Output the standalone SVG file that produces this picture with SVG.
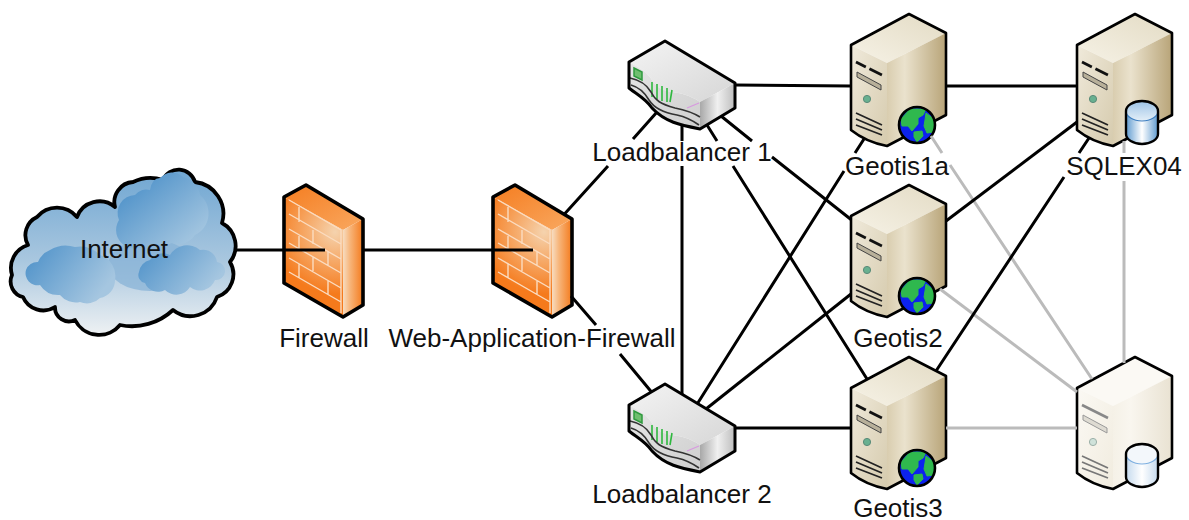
<svg xmlns="http://www.w3.org/2000/svg" width="1189" height="520" viewBox="0 0 1189 520">
<style>
text{font-family:"Liberation Sans",Arial,sans-serif;font-size:26px;fill:#111;text-anchor:middle}
.ol{fill:none;stroke:#000;stroke-width:3;stroke-linejoin:round}
.in{fill:none;stroke:#222;stroke-width:1.8}
.pin{fill:none;stroke:#777;stroke-width:1.8}
.brick{fill:none;stroke:#fbdcc0;stroke-width:1.4}
.blk{fill:none;stroke:#000;stroke-width:3}
.gry{fill:none;stroke:#bbb;stroke-width:3}
</style>
<defs>
<linearGradient id="cloudG" x1="0" y1="0" x2="0" y2="1"><stop offset="0" stop-color="#6fa6d2"/><stop offset=".55" stop-color="#a9c7df"/><stop offset="1" stop-color="#eef1f3"/></linearGradient>
<linearGradient id="blobA" x1="0" y1="0" x2="1" y2="1"><stop offset=".1" stop-color="#4a8fc8"/><stop offset="1" stop-color="#b3cfe4"/></linearGradient>
<linearGradient id="blobB" x1="0" y1="0" x2="1" y2=".5"><stop offset="0" stop-color="#4a8fc8"/><stop offset="1" stop-color="#a5c6e0"/></linearGradient>
<radialGradient id="fwFront" gradientUnits="userSpaceOnUse" cx="335" cy="232" r="62"><stop offset="0" stop-color="#f5d3ae"/><stop offset=".55" stop-color="#f6a25c"/><stop offset="1" stop-color="#f57a1c"/></radialGradient>
<linearGradient id="fwSide" x1="0" y1="0" x2="1" y2="0"><stop offset="0" stop-color="#f7dcc0"/><stop offset=".35" stop-color="#f7b57a"/><stop offset="1" stop-color="#f47a1c"/></linearGradient>
<linearGradient id="fwTop" x1="0" y1="0" x2="1" y2="1"><stop offset="0" stop-color="#f57d20"/><stop offset="1" stop-color="#f9a860"/></linearGradient>
<linearGradient id="sFront" x1="0" y1="0" x2="1" y2="1"><stop offset="0" stop-color="#f0eadb"/><stop offset="1" stop-color="#d6cbae"/></linearGradient>
<linearGradient id="sSide" x1="0" y1="0" x2="1" y2="0"><stop offset="0" stop-color="#d9cdaf"/><stop offset=".3" stop-color="#eae2cd"/><stop offset="1" stop-color="#b8a478"/></linearGradient>
<linearGradient id="sTop" x1="0" y1="1" x2="1" y2="0"><stop offset="0" stop-color="#f6f2e6"/><stop offset="1" stop-color="#e3dbc4"/></linearGradient>
<linearGradient id="pFront" x1="0" y1="0" x2="1" y2="1"><stop offset="0" stop-color="#fbf9f4"/><stop offset="1" stop-color="#f1ecdf"/></linearGradient>
<linearGradient id="pSide" x1="0" y1="0" x2="1" y2="0"><stop offset="0" stop-color="#f5f1e7"/><stop offset=".3" stop-color="#f9f6ef"/><stop offset="1" stop-color="#e9e2d2"/></linearGradient>
<linearGradient id="dbG" x1="0" y1="0" x2="1" y2="0"><stop offset="0" stop-color="#5f9bd0"/><stop offset=".5" stop-color="#ffffff"/><stop offset="1" stop-color="#5f9bd0"/></linearGradient>
<linearGradient id="dbTop" x1="0" y1="0" x2="0" y2="1"><stop offset="0" stop-color="#9cc3e6"/><stop offset="1" stop-color="#e4eff8"/></linearGradient>
<linearGradient id="dbP" x1="0" y1="0" x2="1" y2="0"><stop offset="0" stop-color="#c5daee"/><stop offset=".5" stop-color="#ffffff"/><stop offset="1" stop-color="#c5daee"/></linearGradient>
<linearGradient id="lbTop" x1="0" y1="0" x2="1" y2="1"><stop offset="0" stop-color="#f4f4f4"/><stop offset="1" stop-color="#d6d6d6"/></linearGradient>
<linearGradient id="lbSide" x1="0" y1="0" x2="1" y2="0"><stop offset="0" stop-color="#a8a8a8"/><stop offset=".5" stop-color="#f0f0f0"/><stop offset="1" stop-color="#bdbdbd"/></linearGradient>
<linearGradient id="lbFront" x1="0" y1="0" x2="1" y2="1"><stop offset="0" stop-color="#e6e6e6"/><stop offset="1" stop-color="#cfcfcf"/></linearGradient>

<g id="firewall">
<path d="M284,197 L306,185 L363,219 L343,230 Z" fill="url(#fwTop)"/>
<path d="M284,197 L343,230 V317 L284,283 Z" fill="url(#fwFront)"/>
<path d="M343,230 L363,219 V305 L343,317 Z" fill="url(#fwSide)"/>
<path class="brick" d="M289,200 L341,230 M289,214 L341,244 M289,229 L341,259 M289,243 L341,273 M289,258 L341,288 M289,272 L341,302 M341,230 V313 M299,207 V222 M313,230 V244 M299,236 V250 M328,252 V265 M313,257 V271 M299,264 V278 M328,281 V294"/>
<path class="ol" style="stroke-width:3.6" d="M284,197 L306,185 L363,219 V305 L343,317 L284,283 Z"/>
</g>

<g id="lb">
<path d="M629,62 L665,41 L735,83 L700,102 C690,95 680,93 672,92 C660,90 655,85 652,80 C647,72 640,68 629,62 Z" fill="url(#lbTop)"/>
<path d="M629,62 C640,68 647,72 652,80 C655,85 660,90 672,92 C680,93 690,95 700,102 V129 C680,125 665,122 652,108 C645,98 636,94 629,88 Z" fill="url(#lbFront)"/>
<path d="M700,102 L735,83 V108 L700,129 Z" fill="url(#lbSide)"/>
<path d="M634,68 L642,72 V80 L634,76 Z" fill="#6fbf6f" stroke="#2f9a3f" stroke-width="1.5"/>
<path d="M652,82 V97 M657,84 V99 M662,86 V101 M667,88 V102 M672,90 L670,102" fill="none" stroke="#2fb83f" stroke-width="1.6"/>
<path d="M687,108 L699,103" fill="none" stroke="#d89ae0" stroke-width="1.3"/>
<path d="M630,78 C640,80 647,85 651,92 C655,100 660,104 675,108 C685,110 692,112 700,117 M631,85 C638,87 645,93 649,100 C654,108 665,113 677,115 C686,117 692,120 699,125" fill="none" stroke="#333" stroke-width="1.6"/>
<path class="ol" d="M629,62 L665,41 L735,83 V108 L700,129 C680,125 665,122 652,108 C645,98 636,94 629,88 Z"/>
</g>

<g id="server">
<path d="M851,45 L909,14 L946,33 L887,63 Z" fill="url(#sTop)"/>
<path d="M851,45 L887,63 V146 Q866,142 851,130 Z" fill="url(#sFront)"/>
<path d="M887,63 L946,33 V115 L887,146 Z" fill="url(#sSide)"/>
<path d="M856,62 L882,75" fill="none" stroke="#111" stroke-width="2.8" stroke-dasharray="11 4 14"/>
<path d="M857,72 L881,85 V90 L857,77 Z" fill="#b8b09a" stroke="#444" stroke-width="1"/>
<circle cx="867" cy="99" r="3.6" fill="#68b090" stroke="#5a8a78" stroke-width="1"/>
<path class="in" d="M856,113 L882,125 M856,119 L882,130 M856,125 L882,135"/>
<path class="ol" style="stroke-width:2.6" d="M851,45 L909,14 L946,33 V115 L887,146 Q866,142 851,130 Z"/>
</g>

<g id="serverPale">
<path d="M851,45 L909,14 L946,33 L887,63 Z" fill="#fbf9f4"/>
<path d="M851,45 L887,63 V146 Q866,142 851,130 Z" fill="url(#pFront)"/>
<path d="M887,63 L946,33 V115 L887,146 Z" fill="url(#pSide)"/>
<path d="M856,62 L882,75" fill="none" stroke="#888" stroke-width="2.6"/>
<path d="M857,72 L881,85 V90 L857,77 Z" fill="#dedbd2" stroke="#999" stroke-width="1"/>
<circle cx="867" cy="99" r="3.6" fill="#cfe2da" stroke="#9cb0a8" stroke-width="1"/>
<path class="pin" d="M856,113 L882,125 M856,119 L882,130 M856,125 L882,135"/>
<path class="ol" style="stroke-width:2.6" d="M851,45 L909,14 L946,33 V115 L887,146 Q866,142 851,130 Z"/>
</g>

<g id="globe">
<circle cx="917" cy="125" r="18" fill="#0c22ee"/>
<path transform="translate(917,125)" d="M-16,-6 L-7,-16 L9,-16 L6,-10 L1,-7 L1,-1 L-5,6 L-9,1 L-15,1 Z M-3,7 L5,6 L6,11 L0,17 L-3,12 Z M9,-12 L17,-6 L17,7 L10,8 L7,1 L8,-5 Z" fill="#2fb84e" stroke="#2fb84e" stroke-width="1" stroke-linejoin="round"/>
<circle cx="917" cy="125" r="18" fill="none" stroke="#000" stroke-width="2.6"/>
</g>

<g id="db">
<path d="M1126,111 V134 A16,10 0 0 0 1158,134 V111 Z" fill="url(#dbG)"/>
<ellipse cx="1142" cy="111" rx="16" ry="10" fill="url(#dbTop)"/>
<path d="M1126,111 A16,10 0 0 0 1158,111" fill="none" stroke="#3f7fc0" stroke-width="1.2"/>
<path class="ol" style="stroke-width:2.4" d="M1126,111 A16,10 0 0 1 1158,111 V134 A16,10 0 0 1 1126,134 Z"/>
</g>
<g id="dbPale">
<path d="M1126,111 V134 A16,10 0 0 0 1158,134 V111 Z" fill="url(#dbP)"/>
<ellipse cx="1142" cy="111" rx="16" ry="10" fill="#f3f7fb"/>
<path d="M1126,111 A16,10 0 0 0 1158,111" fill="none" stroke="#7fb0e0" stroke-width="1.2"/>
<path class="ol" style="stroke-width:2.4" d="M1126,111 A16,10 0 0 1 1158,111 V134 A16,10 0 0 1 1126,134 Z"/>
</g>
</defs>

<g id="node-internet">
<path d="M12,275 A24,24 0 0 1 28,245 A20,20 0 0 1 37,217 A26,26 0 0 1 77,217 A24,24 0 0 1 115,207 A20,20 0 0 1 133,182 A40,40 0 0 1 163,180 A17,17 0 0 1 195,182 A32,32 0 0 1 222,223 A26,26 0 0 1 230,262 A24,24 0 0 1 217,297 A28,28 0 0 1 173,310 A60,60 0 0 1 120,325 A27,27 0 0 1 75,320 A14,14 0 0 1 55,307 A22,22 0 0 1 23,297 A16,16 0 0 1 12,275 Z" fill="url(#cloudG)" stroke="#000" stroke-width="3.8" stroke-linejoin="round"/>
<ellipse cx="150" cy="265" rx="42" ry="26" fill="#84b0d6" opacity=".7"/>
<path d="M119,220 A18,18 0 0 1 135,195 A14,14 0 0 1 150,190 Q152,178 160,178 A16,16 0 0 1 183,177 A22,22 0 0 1 200,195 A24,24 0 0 1 195,235 A20,20 0 0 1 172,243 A20,20 0 0 1 150,240 A18,18 0 0 1 119,220 Z" fill="url(#blobA)"/>
<path d="M26,270 A12,12 0 0 1 38,262 A22,22 0 0 1 50,250 A30,30 0 0 1 75,247 A28,28 0 0 1 100,255 A22,22 0 0 1 115,280 A18,18 0 0 1 100,298 A18,18 0 0 1 80,302 A20,20 0 0 1 60,295 A22,22 0 0 1 40,285 A12,12 0 0 1 26,270 Z" fill="url(#blobB)"/>
<path d="M139,272 A14,14 0 0 1 150,260 A16,16 0 0 1 170,255 A20,20 0 0 1 200,250 A14,14 0 0 1 217,262 A9,9 0 0 1 215,280 A16,16 0 0 1 190,287 A16,16 0 0 1 165,290 A14,14 0 0 1 145,283 A8,8 0 0 1 139,272 Z" fill="url(#blobB)"/>
<text x="124" y="258">Internet</text>
</g>

<g id="node-firewall"><use href="#firewall"/><text x="324" y="347">Firewall</text></g>
<g id="node-waf"><use href="#firewall" transform="translate(209,0)"/><text x="532" y="347">Web-Application-Firewall</text></g>
<g id="node-lb1"><use href="#lb"/><text x="682" y="161">Loadbalancer 1</text></g>
<g id="node-lb2"><use href="#lb" transform="translate(0,343)"/><text x="682" y="503">Loadbalancer 2</text></g>
<g id="node-geotis1a"><use href="#server"/><use href="#globe"/><text x="897" y="175">Geotis1a</text></g>
<g id="node-geotis2"><use href="#server" transform="translate(0,171)"/><use href="#globe" transform="translate(0,171)"/><text x="898" y="347">Geotis2</text></g>
<g id="node-geotis3"><use href="#server" transform="translate(0,343)"/><use href="#globe" transform="translate(0,343)"/><text x="898" y="517">Geotis3</text></g>
<g id="node-sqlex04"><use href="#server" transform="translate(226,0)"/><use href="#db"/><text x="1124" y="175">SQLEX04</text></g>
<g id="node-backup"><use href="#serverPale" transform="translate(226,343)"/><use href="#dbPale" transform="translate(0,343)"/></g>

<g id="connectors">
<path class="gry" d="M931,136 L942,153 M950,165 L1092,379"/>
<path class="gry" d="M940,289 L1077,392"/>
<path class="gry" d="M946,428 H1077"/>
<path class="gry" d="M1124,141 V153 M1124,181 V363"/>
<path class="blk" d="M236,250 H325"/>
<path class="blk" d="M363,250 H533"/>
<path class="blk" d="M564.5,214 L608,166 M633,139 L657,112"/>
<path class="blk" d="M571,296 L596,325 M620,354 L651.5,392"/>
<path class="blk" d="M682,124 V141 M682,166 V394"/>
<path class="blk" d="M735,85 L851,86"/>
<path class="blk" d="M721,116 L752,141 M772,157 L851,219.5"/>
<path class="blk" d="M707,125 L717,141 M733,166 L867,379"/>
<path class="blk" d="M697.5,403.5 L844,171 M855,153 L864,139"/>
<path class="blk" d="M706,409 L851,294"/>
<path class="blk" d="M735,428 H851"/>
<path class="blk" d="M946,86 H1077"/>
<path class="blk" d="M946,221 L1077,122"/>
<path class="blk" d="M936,371 L1064,177 M1079,153 L1089,138"/>
</g>
</svg>
